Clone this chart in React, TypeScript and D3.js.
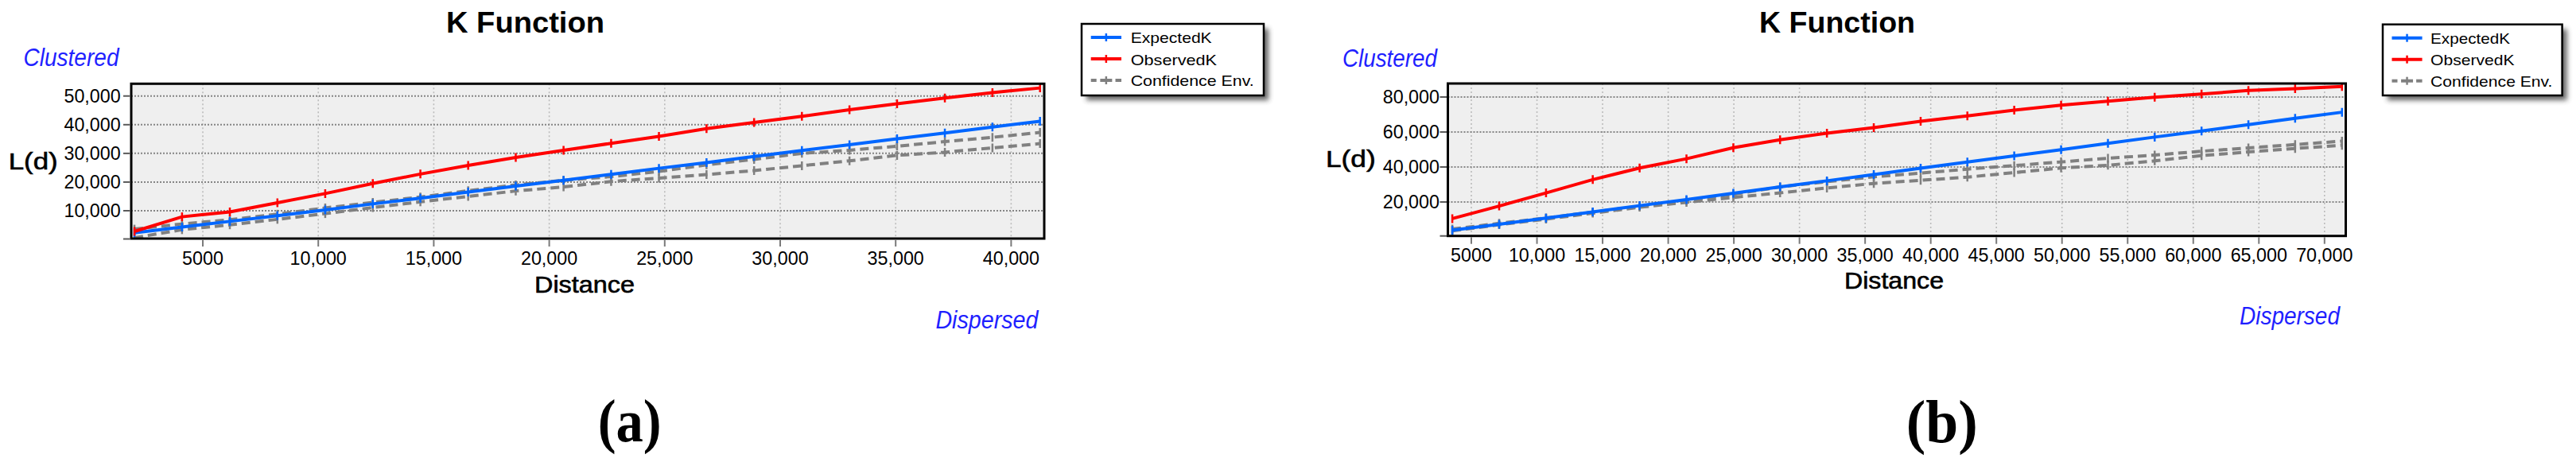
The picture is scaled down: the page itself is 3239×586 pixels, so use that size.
import React from 'react';
import * as d3 from 'd3';

// ---------- DATA ----------
const seriesNames = ['ExpectedK', 'ObservedK', 'Confidence Env.'];

// Panel (a)
const distancesA = [2040, 4100, 6170, 8230, 10300, 12360, 14420, 16490, 18550, 20620, 22680, 24750, 26810, 28870, 30940, 33000, 35060, 37130, 39190, 41250];
const expectedA = [2300, 4300, 6300, 8300, 10300, 12400, 14400, 16500, 18600, 20600, 22700, 24800, 26800, 28900, 31000, 33000, 35100, 37100, 39200, 41200];
const observedA = [2800, 7900, 9600, 12800, 16000, 19500, 22800, 25800, 28600, 31100, 33500, 35900, 38600, 40800, 42900, 45200, 47300, 49300, 51200, 52800];
const upperA = [3600, 5400, 6900, 8800, 11000, 12900, 14800, 17000, 19000, 20600, 21900, 23700, 26000, 27900, 30000, 31100, 32500, 34100, 35600, 37300];
const lowerA = [600, 3400, 5100, 7000, 9000, 11100, 13100, 15000, 16900, 18300, 20200, 21400, 22600, 24000, 25700, 27400, 29300, 30400, 31900, 33400];
const xTicksA = [5000, 10000, 15000, 20000, 25000, 30000, 35000, 40000];
const yTicksA = [10000, 20000, 30000, 40000, 50000];

// Panel (b)
const distancesB = [3550, 7120, 10690, 14250, 17820, 21390, 24960, 28520, 32090, 35660, 39230, 42790, 46360, 49930, 53500, 57060, 60630, 64200, 67760, 71330];
const expectedB = [3900, 7300, 10800, 14300, 17900, 21400, 25000, 28600, 32100, 35700, 39300, 42800, 46400, 49900, 53500, 57100, 60600, 64200, 67800, 71300];
const observedB = [10500, 17700, 25200, 32800, 39400, 44700, 51000, 55600, 59300, 62500, 66100, 69200, 72500, 75300, 77600, 79900, 81700, 83700, 84800, 86000];
const upperB = [4500, 7800, 10900, 14200, 17600, 20800, 24400, 28600, 31600, 34400, 36500, 38800, 40800, 42900, 45000, 46800, 49000, 50900, 52800, 54800];
const lowerB = [3500, 7000, 10200, 13600, 17000, 19800, 22600, 25200, 28000, 30600, 32400, 34200, 36800, 39400, 41000, 43500, 46500, 48600, 50600, 52400];
const xTicksB = [5000, 10000, 15000, 20000, 25000, 30000, 35000, 40000, 45000, 50000, 55000, 60000, 65000, 70000];
const yTicksB = [20000, 40000, 60000, 80000];

const fmtTick = (v: number) => (v < 10000 ? String(v) : d3.format(',')(v));

// ---------- STYLE / LAYOUT ----------
const FONT = 'Liberation Sans, Arial, sans-serif';
const BLUE = '#0066ff';
const RED = '#ff0000';
const GRAY = '#808080';
const LABEL_BLUE = '#1f1fff';

const layoutA = {
  xDomain: [1866, 41433], xRange: [164, 1313],
  yDomain: [166, 54359], yRange: [300.5, 105],
  frame: { x0: 165, y0: 105.3, x1: 1313, y1: 300 },
  title: { x: 660.5, y: 40.7, w: 199 },
  clustered: { x: 29.5, y: 83.3, w: 120 },
  ld: { x: 10.7, y: 212.7, w: 62 },
  yLabelRight: 151.7,
  xLabelBaseline: 332.5,
  distance: { x: 735, y: 368.3, w: 126 },
  dispersed: { x: 1176.4, y: 413.3, w: 129 },
  legend: { x0: 1360, y0: 30, x1: 1589, y1: 120, lineX0: 1371.7, lineX1: 1410, textX: 1421.7, widths: [102, 108.3, 155] },
  caption: { x: 791.7, y: 555, w: 80, text: '(a)' },
};

const layoutB = {
  xDomain: [3211, 71648], xRange: [1820.5, 2950],
  yDomain: [591, 87727], yRange: [296.7, 105],
  frame: { x0: 1820.5, y0: 105, x1: 2949.5, y1: 296.7 },
  title: { x: 2310, y: 40.7, w: 196 },
  clustered: { x: 1688, y: 84, w: 119 },
  ld: { x: 1667, y: 209.7, w: 62.7 },
  yLabelRight: 1810,
  xLabelBaseline: 328.5,
  distance: { x: 2381.5, y: 363.3, w: 125 },
  dispersed: { x: 2816, y: 408.3, w: 126 },
  legend: { x0: 2996, y0: 30.7, x1: 3221.6, y1: 120, lineX0: 3007.5, lineX1: 3045.6, textX: 3056, widths: [100, 105.5, 153.5] },
  caption: { x: 2441.7, y: 556, w: 90, text: '(b)' },
};

type PanelProps = {
  id: string;
  L: any;
  dist: number[];
  expected: number[];
  observed: number[];
  upper: number[];
  lower: number[];
  xTicks: number[];
  yTicks: number[];
};

function Series({ xs, ys, x, y, color, dashed }: any) {
  const line = d3.line<number>().x((_, i) => x(xs[i])).y((v) => y(v));
  return (
    <g>
      <path d={line(ys) || ''} fill="none" stroke={color} strokeWidth={4}
        strokeDasharray={dashed ? '11 6' : undefined} />
      {ys.map((v: number, i: number) => (
        <line key={i} x1={x(xs[i])} x2={x(xs[i])} y1={y(v) - 5.5} y2={y(v) + 5.5}
          stroke={color} strokeWidth={2.5} />
      ))}
    </g>
  );
}

function Panel({ id, L, dist, expected, observed, upper, lower, xTicks, yTicks }: PanelProps) {
  const x = d3.scaleLinear().domain(L.xDomain).range(L.xRange);
  const y = d3.scaleLinear().domain(L.yDomain).range(L.yRange);
  const f = L.frame;
  const lg = L.legend;
  const rowLineY = [lg.y0 + 17, lg.y0 + 44, lg.y0 + 71];
  const rowTextY = [lg.y0 + 24.3, lg.y0 + 51.7, lg.y0 + 78.3];
  const colors = [BLUE, RED, GRAY];
  const mid = (lg.lineX0 + lg.lineX1) / 2;
  return (
    <g>
      <defs>
        <clipPath id={`clip-${id}`}>
          <rect x={f.x0} y={f.y0} width={f.x1 - f.x0} height={f.y1 - f.y0} />
        </clipPath>
        <filter id={`blur-${id}`} x="-20%" y="-20%" width="140%" height="140%">
          <feGaussianBlur stdDeviation={3} />
        </filter>
      </defs>
      {/* title */}
      <text x={L.title.x} y={L.title.y} fontFamily={FONT} fontWeight="bold" fontSize={37.7}
        textAnchor="middle" textLength={L.title.w} lengthAdjust="spacingAndGlyphs">K Function</text>
      <text x={L.clustered.x} y={L.clustered.y} fontFamily={FONT} fontStyle="italic" fontSize={31}
        fill={LABEL_BLUE} textLength={L.clustered.w} lengthAdjust="spacingAndGlyphs">Clustered</text>
      <text x={L.dispersed.x} y={L.dispersed.y} fontFamily={FONT} fontStyle="italic" fontSize={31}
        fill={LABEL_BLUE} textLength={L.dispersed.w} lengthAdjust="spacingAndGlyphs">Dispersed</text>
      <text x={L.ld.x} y={L.ld.y} fontFamily={FONT} fontSize={29} stroke="#000" strokeWidth={0.6}
        textLength={L.ld.w} lengthAdjust="spacingAndGlyphs">L(d)</text>
      <text x={L.distance.x} y={L.distance.y} fontFamily={FONT} fontSize={30} stroke="#000" strokeWidth={0.6}
        textAnchor="middle" textLength={L.distance.w} lengthAdjust="spacingAndGlyphs">Distance</text>

      {/* plot background */}
      <rect x={f.x0} y={f.y0} width={f.x1 - f.x0} height={f.y1 - f.y0} fill="#efefef" />
      {/* grid */}
      {xTicks.map((t) => (
        <line key={`gx${t}`} x1={x(t)} x2={x(t)} y1={f.y0} y2={f.y1} stroke="#bcbcbc"
          strokeWidth={1.6} strokeDasharray="2 3" />
      ))}
      {yTicks.map((t) => (
        <line key={`gy${t}`} x1={f.x0} x2={f.x1} y1={y(t)} y2={y(t)} stroke="#858585"
          strokeWidth={2} strokeDasharray="2 2" />
      ))}
      {/* series */}
      <g clipPath={`url(#clip-${id})`}>
        <Series xs={dist} ys={upper} x={x} y={y} color={GRAY} dashed />
        <Series xs={dist} ys={lower} x={x} y={y} color={GRAY} dashed />
        <Series xs={dist} ys={expected} x={x} y={y} color={BLUE} />
        <Series xs={dist} ys={observed} x={x} y={y} color={RED} />
      </g>
      {/* frame */}
      <rect x={f.x0} y={f.y0} width={f.x1 - f.x0} height={f.y1 - f.y0} fill="none" stroke="#000" strokeWidth={3} />
      {/* y axis */}
      {[L.yDomain[0], ...yTicks].map((t) => (
        <line key={`ty${t}`} x1={f.x0 - 10} x2={f.x0 - 1.5} y1={y(t)} y2={y(t)} stroke="#5a5a5a" strokeWidth={2} />
      ))}
      {yTicks.map((t) => (
        <text key={`ly${t}`} x={L.yLabelRight} y={y(t) + 8.3} fontFamily={FONT} fontSize={23.3}
          textAnchor="end">{fmtTick(t)}</text>
      ))}
      {/* x axis */}
      {xTicks.map((t) => (
        <line key={`tx${t}`} x1={x(t)} x2={x(t)} y1={f.y1 + 1.5} y2={f.y1 + 10} stroke="#7a7a7a" strokeWidth={2} />
      ))}
      {xTicks.map((t) => (
        <text key={`lx${t}`} x={x(t)} y={L.xLabelBaseline} fontFamily={FONT} fontSize={23.3}
          textAnchor="middle">{fmtTick(t)}</text>
      ))}
      {/* legend */}
      <rect x={lg.x0 + 6} y={lg.y0 + 6} width={lg.x1 - lg.x0} height={lg.y1 - lg.y0} fill="#333"
        opacity={0.75} filter={`url(#blur-${id})`} />
      <rect x={lg.x0} y={lg.y0} width={lg.x1 - lg.x0} height={lg.y1 - lg.y0} fill="#fff" stroke="#000" strokeWidth={2.5} />
      {seriesNames.map((name, i) => (
        <g key={name}>
          {i < 2 ? (
            <line x1={lg.lineX0} x2={lg.lineX1} y1={rowLineY[i]} y2={rowLineY[i]} stroke={colors[i]} strokeWidth={4} />
          ) : (
            <g>
              <line x1={lg.lineX0} x2={lg.lineX0 + 7} y1={rowLineY[i]} y2={rowLineY[i]} stroke={GRAY} strokeWidth={4} />
              <line x1={mid - 7.5} x2={mid + 7.5} y1={rowLineY[i]} y2={rowLineY[i]} stroke={GRAY} strokeWidth={4} />
              <line x1={lg.lineX1 - 7.5} x2={lg.lineX1} y1={rowLineY[i]} y2={rowLineY[i]} stroke={GRAY} strokeWidth={4} />
            </g>
          )}
          <line x1={mid} x2={mid} y1={rowLineY[i] - 5} y2={rowLineY[i] + 5} stroke={colors[i]} strokeWidth={2.5} />
          <text x={lg.textX} y={rowTextY[i]} fontFamily={FONT} fontSize={17.7}
            textLength={lg.widths[i]} lengthAdjust="spacingAndGlyphs">{name}</text>
        </g>
      ))}
      {/* caption */}
      <text x={L.caption.x} y={L.caption.y} fontFamily="Liberation Serif, Times New Roman, serif" fontWeight="bold"
        fontSize={76} textAnchor="middle" textLength={L.caption.w} lengthAdjust="spacingAndGlyphs">{L.caption.text}</text>
    </g>
  );
}

export default function App() {
  return (
    <svg width={3239} height={586} style={{ position: 'absolute', left: 0, top: 0, background: '#fff' }}>
      <rect x={0} y={0} width={3239} height={586} fill="#fff" />
      <Panel id="a" L={layoutA} dist={distancesA} expected={expectedA} observed={observedA}
        upper={upperA} lower={lowerA} xTicks={xTicksA} yTicks={yTicksA} />
      <Panel id="b" L={layoutB} dist={distancesB} expected={expectedB} observed={observedB}
        upper={upperB} lower={lowerB} xTicks={xTicksB} yTicks={yTicksB} />
    </svg>
  );
}
